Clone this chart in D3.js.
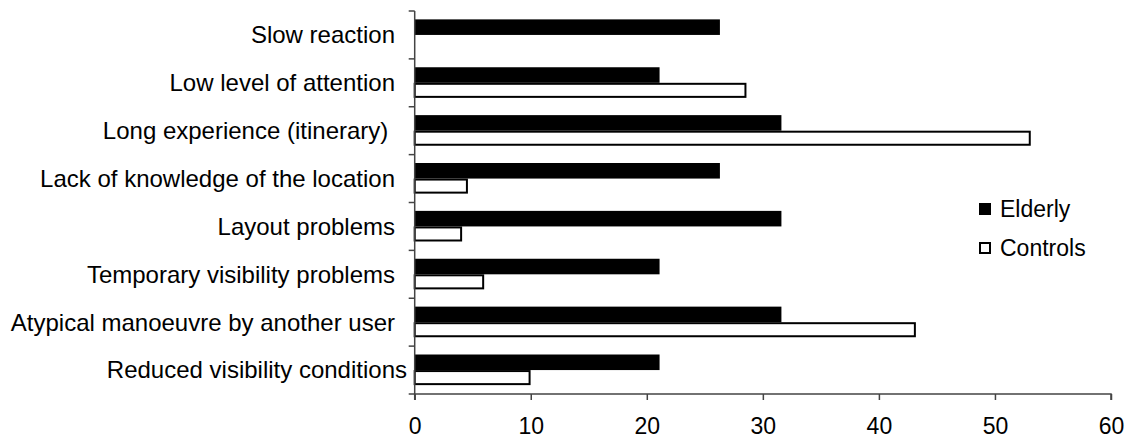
<!DOCTYPE html>
<html>
<head>
<meta charset="utf-8">
<script src="https://cdn.jsdelivr.net/npm/d3@7"></script>
<style>
  html, body { margin: 0; padding: 0; background: #fff; }
  svg { display: block; font-family: "Liberation Sans", Arial, sans-serif; }
  text { white-space: pre; }
</style>
</head>
<body>
<svg id="chart" width="1136" height="439"></svg>
<script>
const categories = [
  "Slow reaction",
  "Low level of attention",
  "Long experience (itinerary) ",
  "Lack of knowledge of the location",
  "Layout problems",
  "Temporary visibility problems",
  "Atypical manoeuvre by another user",
  "Reduced visibility conditions"
];
const seriesNames = ["Elderly", "Controls"];
const elderly  = [26.3, 21.1, 31.6, 26.3, 31.6, 21.1, 31.6, 21.1];
const controls = [0, 28.5, 53.0, 4.5, 4.0, 5.9, 43.1, 9.9];
const xTicks = [0, 10, 20, 30, 40, 50, 60];

const svg = d3.select("#chart");
const plotLeft = 414.7, plotRight = 1111, plotTop = 11, plotBottom = 394;
const axisColor = "#444";

const x = d3.scaleLinear().domain([0, 60]).range([plotLeft, plotRight]);
const y = d3.scaleBand().domain(categories).range([plotTop, plotBottom])
  .paddingInner(0.35).paddingOuter(0.175);
const yIn = d3.scaleBand().domain(seriesNames).range([0, y.bandwidth()]);

const rows = categories.map((c, i) => ({ cat: c, Elderly: elderly[i], Controls: controls[i] }));

// bars
const g = svg.append("g");
rows.forEach(r => {
  const by = y(r.cat);
  g.append("rect")
    .attr("x", x(0))
    .attr("y", by + yIn("Elderly"))
    .attr("width", x(r.Elderly) - x(0))
    .attr("height", yIn.bandwidth())
    .attr("fill", "#000");
  if (r.Controls > 0) {
    g.append("rect")
      .attr("x", x(0))
      .attr("y", by + yIn("Controls") + 1)
      .attr("width", x(r.Controls) - x(0))
      .attr("height", yIn.bandwidth() - 2.5)
      .attr("fill", "#fff")
      .attr("stroke", "#000")
      .attr("stroke-width", 2);
  }
});

// y axis (category axis) line & ticks at band boundaries
const step = (plotBottom - plotTop) / categories.length;
svg.append("line")
  .attr("x1", plotLeft).attr("x2", plotLeft)
  .attr("y1", plotTop).attr("y2", plotBottom)
  .attr("stroke", axisColor).attr("stroke-width", 1.5);
d3.range(categories.length + 1).forEach(i => {
  const yy = plotTop + i * step;
  svg.append("line")
    .attr("x1", plotLeft - 6).attr("x2", plotLeft)
    .attr("y1", yy).attr("y2", yy)
    .attr("stroke", axisColor).attr("stroke-width", 1.5);
});

// category labels
svg.append("g").selectAll("text").data(categories).join("text")
  .attr("x", (d, i) => i === categories.length - 1 ? 407 : 395)
  .attr("y", d => y(d) + y.bandwidth() / 2)
  .attr("dy", "0.35em")
  .attr("text-anchor", "end")
  .attr("font-size", 24)
  .attr("fill", "#000")
  .text(d => d);

// x axis
const xAxis = d3.axisBottom(x).tickValues(xTicks).tickSize(6).tickPadding(18).tickFormat(d3.format("d"));
const xg = svg.append("g").attr("transform", `translate(0,${plotBottom})`).call(xAxis);
xg.select(".domain").attr("stroke", axisColor).attr("stroke-width", 1.5)
  .attr("d", `M${plotLeft},6V0H${plotRight}V6`);
xg.selectAll(".tick line").attr("stroke", axisColor).attr("stroke-width", 1.5);
xg.selectAll(".tick text").attr("font-size", 23).attr("fill", "#000")
  .attr("font-family", "'Liberation Sans', Arial, sans-serif");

// legend
const legend = svg.append("g").attr("transform", "translate(979,203)");
seriesNames.forEach((s, i) => {
  const ly = i * 39;
  const isBlack = s === "Elderly";
  legend.append("rect")
    .attr("x", isBlack ? 0 : 1)
    .attr("y", ly + (isBlack ? 0 : 1))
    .attr("width", isBlack ? 12 : 10)
    .attr("height", isBlack ? 12 : 10)
    .attr("fill", isBlack ? "#000" : "#fff")
    .attr("stroke", "#000")
    .attr("stroke-width", isBlack ? 0 : 2);
  legend.append("text")
    .attr("x", 21)
    .attr("y", ly + 13.5)
    .attr("font-size", 23)
    .attr("fill", "#000")
    .text(s);
});
</script>
</body>
</html>
